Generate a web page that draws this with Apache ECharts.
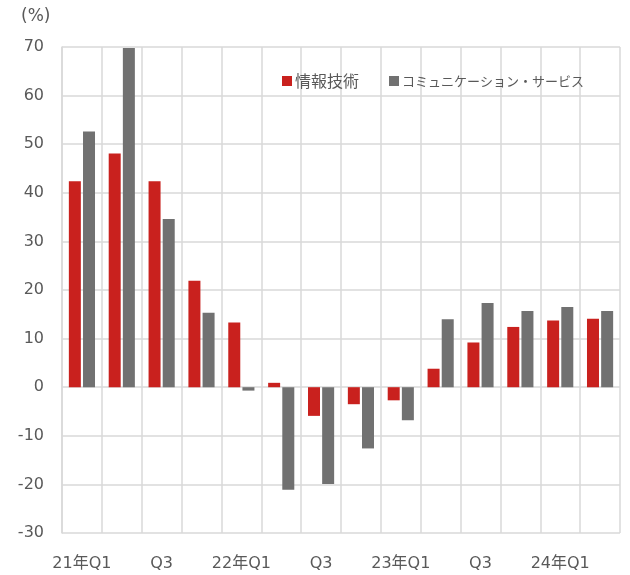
<!DOCTYPE html>
<html><head><meta charset="utf-8">
<script src="https://cdn.jsdelivr.net/npm/echarts@6/dist/echarts.min.js"></script>
<style>html,body{margin:0;padding:0;background:#fff}#c{width:630px;height:575px}</style>
</head><body><div id="c"></div>
<script>
const categories = ['21年Q1','Q2','Q3','Q4','22年Q1','Q2','Q3','Q4','23年Q1','Q2','Q3','Q4','24年Q1','Q2'];
const itValues = [42.4, 48.1, 42.4, 21.9, 13.3, 0.9, -5.9, -3.5, -2.7, 3.8, 9.2, 12.4, 13.7, 14.1];
const commValues = [52.6, 69.8, 34.6, 15.3, -0.7, -21.1, -19.9, -12.6, -6.8, 14.0, 17.3, 15.7, 16.5, 15.7];
const seriesNames = ['情報技術', 'コミュニケーション・サービス'];
const yTicks = {min: -30, max: 70, interval: 10};

const font = '"DejaVu Sans", Verdana, "Noto Sans CJK JP", sans-serif';
const cjk = '"Noto Sans CJK JP", sans-serif';
const txt = '#595959';
const gridColor = '#d9d9d9';
const chart = echarts.init(document.getElementById('c'), null, {renderer: 'canvas'});
chart.setOption({
  animation: false,
  backgroundColor: '#fff',
  grid: {left: 62, right: 10, top: 47, bottom: 42},
  graphic: [{type: 'text', left: 21, top: 8, style: {text: '(%)', font: '17px ' + font, fill: txt}}],
  legend: {
    left: 277, top: 68, itemWidth: 10, itemHeight: 10, itemGap: 30,
    icon: 'rect',
    formatter: function (name) { return name === seriesNames[0] ? '{a|' + name + '}' : '{b|' + name + '}'; },
    textStyle: {
      color: txt, fontFamily: cjk, padding: [0, 0, 0, -2],
      rich: {
        a: {fontSize: 16, color: txt, fontFamily: cjk},
        b: {fontSize: 13, color: txt, fontFamily: cjk}
      }
    },
    data: seriesNames
  },
  xAxis: {
    type: 'category', data: categories,
    axisLine: {show: false}, axisTick: {show: false},
    axisLabel: {interval: 1, color: txt, fontSize: 16, fontFamily: '"DejaVu Sans", "Noto Sans CJK JP", sans-serif', margin: 23},
    splitLine: {show: true, interval: 0, lineStyle: {color: gridColor, width: 1.5}}
  },
  yAxis: {
    type: 'value', min: yTicks.min, max: yTicks.max, interval: yTicks.interval,
    axisLine: {show: true, lineStyle: {color: gridColor, width: 1.5}}, axisTick: {show: false},
    axisLabel: {color: txt, fontSize: 16, fontFamily: font, margin: 18},
    splitLine: {show: true, lineStyle: {color: gridColor, width: 1.5}}
  },
  series: [
    {name: seriesNames[0], type: 'bar', data: itValues, barWidth: 12, barGap: '18%', itemStyle: {color: '#C9211E'}},
    {name: seriesNames[1], type: 'bar', data: commValues, barWidth: 12, itemStyle: {color: '#717171'}}
  ]
});
</script></body></html>
